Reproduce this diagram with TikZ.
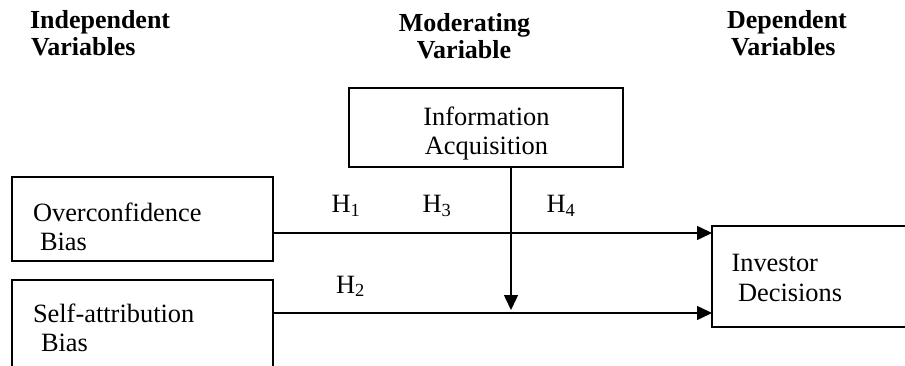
\documentclass[tikz,border=0pt]{standalone}
\usepackage{fontspec}
\setmainfont{Liberation Serif}
\usetikzlibrary{arrows.meta}
\begin{document}
\begin{tikzpicture}[x=1pt,y=-1pt,
  every node/.style={inner sep=0pt,outer sep=0pt},
  txt/.style={anchor=base west,font=\fontsize{26.4}{30}\selectfont},
  hdr/.style={anchor=base west,font=\fontsize{26}{30}\selectfont\bfseries},
  hlab/.style={anchor=base west,font=\fontsize{26.4}{30}\selectfont},
  box/.style={draw,line width=1.5pt,anchor=north west},
  arr/.style={line width=1.5pt,-{Triangle[length=15pt,width=14pt]}}]
\clip (0,0) rectangle (905,366);
\fill[white] (0,0) rectangle (905,366);
% headers
\node[hdr] (h1a) at (30,29) {Independent};
\node[hdr] (h1b) at (31,56) {Variables};
\node[hdr,anchor=base] (h2a) at (464.5,32) {Moderating};
\node[hdr,anchor=base] (h2b) at (464,59) {Variable};
\node[hdr] (h3a) at (727,29) {Dependent};
\node[hdr] (h3b) at (731,56) {Variables};
% boxes
\node[box,minimum width=274pt,minimum height=79pt] (info) at (349,88) {};
\node[box,minimum width=261pt,minimum height=84pt] (over) at (12,177) {};
\node[box,minimum width=261pt,minimum height=120pt] (self) at (12,280) {};
\node[box,minimum width=230pt,minimum height=101pt] (inv) at (712,226) {};
% box texts
\node[txt,anchor=base] (t1) at (486.5,126) {Information};
\node[txt,anchor=base] (t2) at (486.5,155) {Acquisition};
\node[txt] (t3) at (33,222) {Overconfidence};
\node[txt] (t4) at (40,251) {Bias};
\node[txt] (t5) at (33,322) {Self-attribution};
\node[txt] (t6) at (41,351) {Bias};
\node[txt] (t7) at (731.5,271) {Investor};
\node[txt] (t8) at (738,301) {Decisions};
% connectors
\coordinate (a1s) at (273,233);
\coordinate (a1e) at (712,233);
\coordinate (a2s) at (273,313);
\coordinate (a2e) at (712,313);
\coordinate (vs) at (511,167);
\coordinate (ve) at (511,310);
\draw[arr] (a1s) -- (a1e);
\draw[arr] (a2s) -- (a2e);
\draw[arr] (vs) -- (ve);
% labels
\node[hlab] (H1) at (331.5,213) {H\textsubscript{1}};
\node[hlab] (H3) at (422.5,213) {H\textsubscript{3}};
\node[hlab] (H4) at (546.5,213) {H\textsubscript{4}};
\node[hlab] (H2) at (336,293) {H\textsubscript{2}};
\end{tikzpicture}
\end{document}
